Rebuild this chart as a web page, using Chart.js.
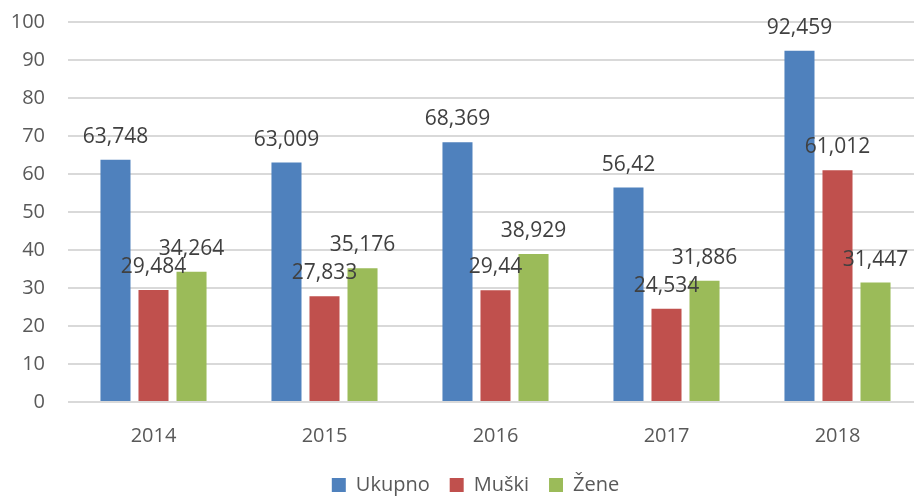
<!DOCTYPE html>
<html>
<head>
<meta charset="utf-8">
<script src="https://cdn.jsdelivr.net/npm/chart.js@4/dist/chart.umd.min.js"></script>
<style>
    html, body { margin: 0; padding: 0; background: #fff; width: 914px; height: 497px; overflow: hidden; position: relative; }
    /* the plot runs a little past the right edge, as in the reference */
    #wrap { position: absolute; left: 0; top: -13px; width: 923px; height: 510px; }
</style>
</head>
<body>
<div id="wrap"><canvas id="chart"></canvas></div>
<script>
// values
const years = ["2014", "2015", "2016", "2017", "2018"];
const ukupno = [63.748, 63.009, 68.369, 56.42, 92.459];
const muski = [29.484, 27.833, 29.44, 24.534, 61.012];
const zene = [34.264, 35.176, 38.929, 31.886, 31.447];
const yTicks = [0, 10, 20, 30, 40, 50, 60, 70, 80, 90, 100];

const FONT = "'Open Sans', sans-serif";

// draws the value above each bar, Croatian decimal comma
const valueLabels = {
    id: "valueLabels",
    afterDatasetsDraw(chart) {
        const ctx = chart.ctx;
        ctx.save();
        ctx.font = "21px " + FONT;
        ctx.fillStyle = "#404040";
        ctx.textAlign = "center";
        ctx.textBaseline = "alphabetic";
        chart.data.datasets.forEach((ds, i) => {
            chart.getDatasetMeta(i).data.forEach((bar, j) => {
                const txt = String(ds.data[j]).replace(".", ",");
                ctx.fillText(txt, bar.x, bar.y - 17);
            });
        });
        ctx.restore();
    }
};

// keep the legend short and nudge it right, like the reference
const legendFix = {
    id: "legendFix",
    beforeLayout(chart) {
        const lg = chart.legend;
        if (lg && !lg._patched) {
            const fit = lg.fit.bind(lg);
            lg.fit = function () {
                fit();
                this.height = 42;
            };
            lg._patched = true;
        }
    },
    afterLayout(chart) {
        chart.legend.left += 14;
        chart.legend.right += 14;
    }
};

new Chart(document.getElementById("chart"), {
    type: "bar",
    data: {
        labels: years,
        datasets: [
            { label: "Ukupno", data: ukupno, backgroundColor: "#4F81BD" },
            { label: "Muški", data: muski, backgroundColor: "#C0504D" },
            { label: "Žene", data: zene, backgroundColor: "#9BBB59" }
        ]
    },
    options: {
        responsive: true,
        maintainAspectRatio: false,
        animation: false,
        barPercentage: 0.79,
        categoryPercentage: 0.667,
        layout: { padding: 0 },
        scales: {
            x: {
                grid: { display: false, drawTicks: false },
                border: { display: false },
                ticks: { color: "#595959", font: { family: FONT, size: 20 }, padding: 22 },
                afterFit(scale) { scale.height = 53; }
            },
            y: {
                min: 0,
                max: 100,
                afterBuildTicks(scale) { scale.ticks = yTicks.map(v => ({ value: v })); },
                grid: { color: "#d9d9d9", lineWidth: 2, drawTicks: false },
                border: { display: false },
                ticks: { color: "#595959", font: { family: FONT, size: 20 }, padding: 23 },
                afterFit(scale) { scale.width = 68; }
            }
        },
        plugins: {
            legend: {
                position: "bottom",
                labels: {
                    color: "#595959",
                    font: { family: FONT, size: 20 },
                    boxWidth: 14,
                    boxHeight: 14,
                    padding: 20
                }
            },
            tooltip: { enabled: false }
        }
    },
    plugins: [legendFix, valueLabels]
});
</script>
</body>
</html>
